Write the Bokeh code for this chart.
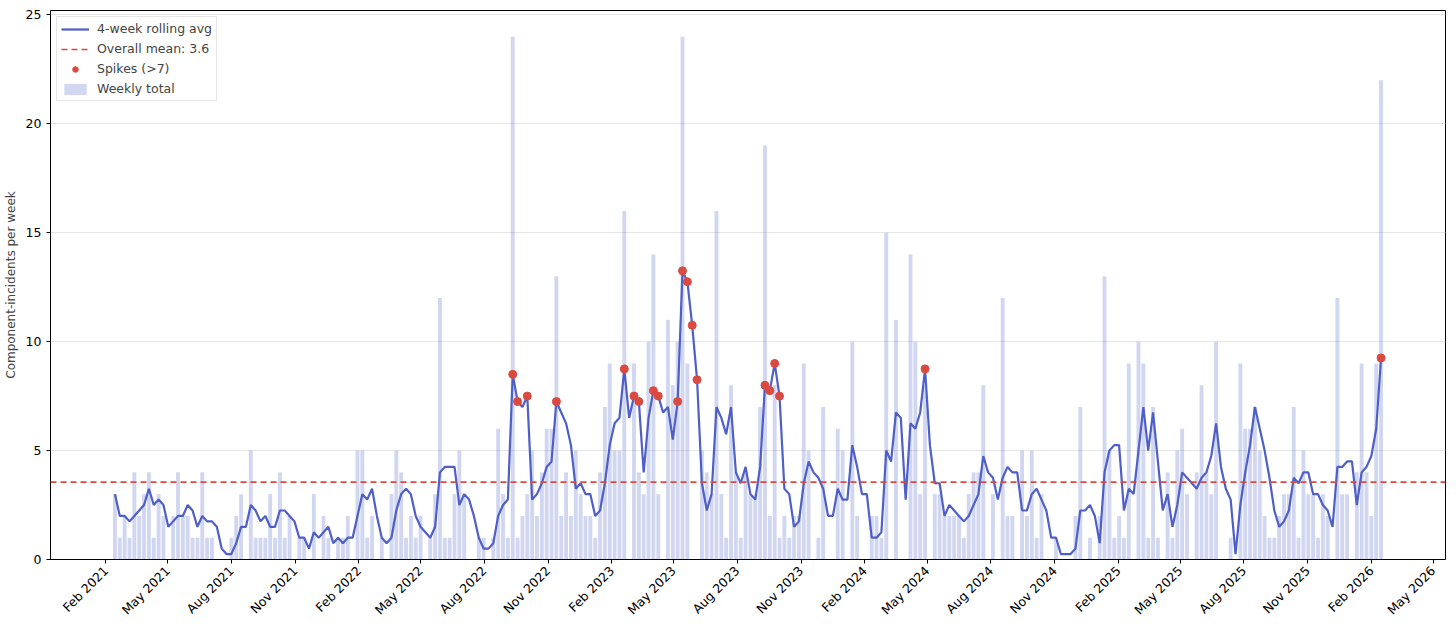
import math

import pandas as pd
from bokeh.embed import file_html
from bokeh.models import (ColumnDataSource, DatetimeTickFormatter, Legend, LegendItem,
                          MonthsTicker, Range1d, SingleIntervalTicker, Span)
from bokeh.plotting import figure
from bokeh.resources import INLINE

# weekly component-incident totals, weeks ending on Sunday
first_week = "2021-02-14"
weekly_total = [
    3, 1, 2, 1, 4, 2, 3, 4, 1, 3,
    2, 0, 2, 4, 2, 2, 1, 1, 4, 1,
    1, 0, 0, 0, 1, 2, 3, 0, 5, 1,
    1, 1, 3, 1, 4, 1, 2, 0, 1, 1,
    0, 3, 0, 2, 1, 0, 1, 1, 2, 0,
    5, 5, 1, 2, 0, 1, 0, 3, 5, 4,
    1, 2, 1, 2, 0, 1, 3, 12, 1, 1,
    3, 5, 3, 0, 0, 1, 1, 0, 1, 6,
    3, 1, 24, 1, 2, 3, 5, 2, 4, 6,
    6, 13, 2, 4, 2, 5, 3, 2, 2, 1,
    4, 7, 9, 5, 5, 16, 0, 9, 4, 3,
    10, 14, 3, 0, 11, 8, 10, 24, 9, 0,
    0, 5, 4, 3, 16, 3, 1, 8, 4, 1,
    4, 3, 3, 7, 19, 2, 8, 1, 2, 1,
    2, 2, 9, 5, 0, 1, 7, 0, 0, 6,
    5, 0, 10, 2, 0, 0, 2, 2, 1, 15,
    0, 11, 0, 0, 14, 10, 3, 8, 0, 3,
    3, 2, 2, 2, 2, 1, 3, 4, 4, 8,
    0, 3, 0, 12, 2, 2, 0, 5, 2, 5,
    1, 3, 0, 0, 1, 0, 0, 0, 2, 7,
    0, 1, 0, 2, 13, 5, 1, 2, 1, 9,
    0, 10, 9, 1, 7, 1, 0, 4, 1, 5,
    6, 3, 0, 4, 8, 4, 3, 10, 0, 0,
    1, 0, 9, 6, 6, 7, 5, 2, 1, 1,
    2, 3, 3, 7, 1, 5, 3, 3, 1, 3,
    2, 0, 12, 3, 3, 0, 4, 9, 4, 2,
    9, 22,
]
spike_threshold = 7
window = 4

blue = "#4f5fc8"
red = "#db4a40"
font = "DejaVu Sans"

df = pd.DataFrame({
    "date": pd.date_range(first_week, periods=len(weekly_total), freq="7D"),
    "total": weekly_total,
})
df["rolling"] = df["total"].rolling(window, min_periods=1).mean()
overall_mean = df["total"].mean()
spikes = df[df["rolling"] > spike_threshold]

src = ColumnDataSource(df)
spike_src = ColumnDataSource(spikes)

pad = pd.Timedelta(days=93)
p = figure(width=1448, height=625, x_axis_type="datetime",
           x_range=Range1d(df["date"].iloc[0] - pad, df["date"].iloc[-1] + pad),
           y_range=Range1d(0, 25.2),
           output_backend="svg", toolbar_location=None,
           min_border_left=50, min_border_right=3, min_border_top=10, min_border_bottom=64)

bars = p.vbar(x="date", top="total", width=7 * 0.8 * 86400000, source=src,
              fill_color=blue, fill_alpha=0.26, line_color=None)
roll = p.line(x="date", y="rolling", source=src, line_color=blue, line_width=2.2)
pts = p.scatter(x="date", y="rolling", source=spike_src, size=8,
                fill_color=red, line_color=red)

p.add_layout(Span(location=overall_mean, dimension="width", line_color=red,
                  line_dash="6 4", line_width=1.6))
# stand-in with no visible points so the mean line shows in the legend
mean_proxy = p.line(x=df["date"].iloc[:1], y=[float("nan")], line_color=red,
                    line_dash="6 4", line_width=1.6)

legend = Legend(items=[
    LegendItem(label="4-week rolling avg", renderers=[roll]),
    LegendItem(label="Overall mean: %.1f" % overall_mean, renderers=[mean_proxy]),
    LegendItem(label="Spikes (>%d)" % spike_threshold, renderers=[pts]),
    LegendItem(label="Weekly total", renderers=[bars]),
], location="top_left")
legend.label_text_font = font
legend.label_text_font_size = "12.5px"
legend.glyph_width = 28
legend.glyph_height = 14
legend.label_height = 14
legend.label_standoff = 8
legend.spacing = 5
legend.padding = 4
legend.margin = 6
legend.border_line_color = "#cccccc"
legend.background_fill_alpha = 0.85
p.add_layout(legend)

p.xaxis.ticker = MonthsTicker(months=[1, 4, 7, 10])
p.xaxis.formatter = DatetimeTickFormatter(months="%b %Y", years="%b %Y", days="%b %Y", context=None)
p.xaxis.major_label_orientation = math.pi / 4
p.yaxis.ticker = SingleIntervalTicker(interval=5, num_minor_ticks=0)
p.yaxis.axis_label = "Component-incidents per week"

for ax in (p.xaxis, p.yaxis):
    ax.axis_label_text_font = font
    ax.axis_label_text_font_size = "12px"
    ax.axis_label_text_font_style = "normal"
    ax.major_label_text_font = font
    ax.major_label_text_font_size = "12.5px"
    ax.major_label_text_color = "black"
    ax.axis_line_color = "black"
    ax.major_tick_line_color = "black"
    ax.major_tick_in = 0
    ax.major_tick_out = 4
    ax.minor_tick_line_color = None

p.xgrid.grid_line_color = None
p.ygrid.grid_line_color = "#e6e6e6"
p.outline_line_color = "black"
p.outline_line_alpha = 1

open("out.html", "w").write(file_html(p, INLINE))
